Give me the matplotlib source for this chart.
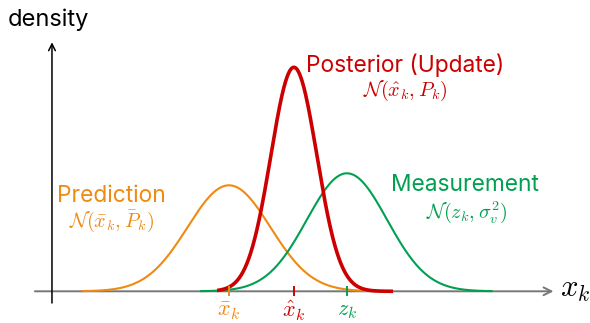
import numpy as np
import matplotlib
matplotlib.use("Agg")
import matplotlib.pyplot as plt

plt.rcParams['font.family'] = ['Inter', 'DejaVu Sans']
plt.rcParams['mathtext.fontset'] = 'cm'

# curve parameters: prediction, posterior, measurement
nombres = ["pred", "post", "meas"]
medias = [3.0, 4.10, 5.0]
sigmas = [0.70, 0.39, 0.68]
alturas = [1.06, 2.24, 1.18]
desde = [0.51, 2.80, 2.51]
hasta = [5.5, 5.78, 7.47]
colores = ["#EF8A12", "#CC0000", "#00A050"]
anchos = [1.5, 2.6, 1.5]
etiquetas_eje = [r"$\bar{x}_k$", r"$\hat{x}_k$", r"$z_k$"]

fig = plt.figure(figsize=(5.9, 3.23), dpi=100)
ax = fig.add_axes([0, 0, 1, 1])
ax.set_xlim(-0.881, 9.119)
ax.set_ylim(-0.317, 2.913)
ax.axis("off")

# ejes
ax.annotate("", xy=(8.50, 0), xytext=(-0.29, 0),
            arrowprops=dict(arrowstyle="->", color="#777777", lw=1.4,
                            mutation_scale=14, shrinkA=0, shrinkB=0))
ax.annotate("", xy=(0, 2.49), xytext=(0, -0.117),
            arrowprops=dict(arrowstyle="->", color="black", lw=1.1,
                            mutation_scale=12, shrinkA=0, shrinkB=0))

def gauss(x, m, s, a):
    return a * np.exp(-0.5 * ((x - m) / s) ** 2)

orden = [0, 2, 1]
for i in orden:
    x = np.linspace(desde[i], hasta[i], 400)
    ax.plot(x, gauss(x, medias[i], sigmas[i], alturas[i]),
            color=colores[i], lw=anchos[i], solid_capstyle="butt", zorder=3 + (i == 1))

for i in range(3):
    ax.plot([medias[i], medias[i]], [-0.04, 0.045], color=colores[i], lw=1.4, zorder=5)
    ax.text(medias[i], -0.20, etiquetas_eje[i], color=colores[i], fontsize=16,
            ha="center", va="center")

ax.text(-0.75, 2.72, "density", fontsize=17, ha="left", va="center")
ax.text(8.86, 0.01, r"$x_k$", fontsize=22, ha="center", va="center")

ax.text(5.98, 2.26, "Posterior (Update)", color=colores[1], fontsize=16.4,
        ha="center", va="center")
ax.text(5.98, 2.00, r"$\mathcal{N}(\hat{x}_k, P_k)$", color=colores[1], fontsize=14.5,
        ha="center", va="center")
ax.text(1.01, 0.955, "Prediction", color=colores[0], fontsize=16.4,
        ha="center", va="center")
ax.text(1.01, 0.70, r"$\mathcal{N}(\bar{x}_k, \bar{P}_k)$", color=colores[0], fontsize=14.5,
        ha="center", va="center")
ax.text(7.0, 1.06, "Measurement", color=colores[2], fontsize=16.4,
        ha="center", va="center")
ax.text(7.02, 0.79, r"$\mathcal{N}(z_k, \sigma_v^2)$", color=colores[2], fontsize=14.5,
        ha="center", va="center")

fig.savefig("out.png", dpi=100)
